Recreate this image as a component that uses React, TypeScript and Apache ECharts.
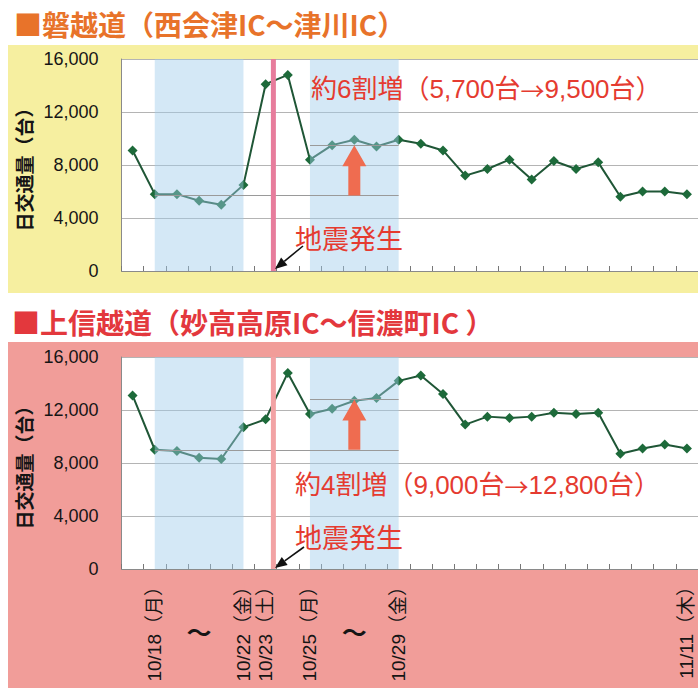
import React, { useEffect, useRef } from 'react';
import * as echarts from 'echarts';

// Daily traffic, 10/17 – 11/11
const dates = [
  '10/17', '10/18', '10/19', '10/20', '10/21', '10/22', '10/23', '10/24', '10/25', '10/26',
  '10/27', '10/28', '10/29', '10/30', '10/31', '11/1', '11/2', '11/3', '11/4', '11/5',
  '11/6', '11/7', '11/8', '11/9', '11/10', '11/11',
];

// 磐越道（西会津IC～津川IC）
const banetsuTraffic = [
  9100, 5800, 5800, 5300, 5000, 6500, 14100, 14800, 8400, 9500,
  9900, 9400, 9900, 9600, 9100, 7200, 7700, 8400, 6900, 8300,
  7700, 8200, 5600, 6000, 6000, 5800,
];

// 上信越道（妙高高原IC～信濃町IC）
const joshinetsuTraffic = [
  13100, 9000, 8900, 8400, 8300, 10700, 11300, 14800, 11700, 12100,
  12700, 12900, 14200, 14600, 13200, 10900, 11500, 11400, 11500, 11800,
  11700, 11800, 8700, 9100, 9400, 9100,
];

// Weekday averages before / after the quake, with the stated increase
const banetsuAverages = [5700, 9500];
const joshinetsuAverages = [9000, 12800];
const banetsuIncrease = '約6割増';
const joshinetsuIncrease = '約4割増';

const dateLabels: Record<string, string> = {
  '10/18': '10/18（月）',
  '10/22': '10/22（金）',
  '10/23': '10/23（土）',
  '10/25': '10/25（月）',
  '10/29': '10/29（金）',
  '11/11': '11/11（木）',
};
const tildeDates = ['10/20', '10/27'];

const beforeWeek = ['10/18', '10/22'];
const afterWeek = ['10/25', '10/29'];
const quakeDay = '10/23';
const quakeShift = 0.35; // 17:56 on 10/23, as a fraction of the day band past its centre
const arrowDay = '10/27';

const yMin = 0;
const yMax = 16000;
const yStep = 4000;

const CJK = '"Noto Sans CJK JP", sans-serif';
const LATIN = '"Liberation Sans", "Noto Sans CJK JP", sans-serif';
const NARROW = '"Liberation Sans Narrow", "Liberation Sans", "Noto Sans CJK JP", sans-serif';

const RED = '#e53b30';

function increaseNote(prefix: string, before: number, after: number) {
  const fmt = (v: number) => v.toLocaleString('en-US');
  return `${prefix}（${fmt(before)}台{arr|→}${fmt(after)}台）`;
}

function blackArrow(x0: number, y0: number, x1: number, y1: number) {
  const dx = x1 - x0;
  const dy = y1 - y0;
  const len = Math.hypot(dx, dy);
  const ux = dx / len;
  const uy = dy / len;
  const headLen = 12;
  const headHalf = 5;
  const bx = x1 - ux * headLen;
  const by = y1 - uy * headLen;
  return [
    {
      type: 'line',
      z: 100,
      shape: { x1: x0, y1: y0, x2: bx, y2: by },
      style: { stroke: '#111', lineWidth: 1.6 },
    },
    {
      type: 'polygon',
      z: 100,
      shape: {
        points: [
          [x1, y1],
          [bx - uy * headHalf, by + ux * headHalf],
          [bx + uy * headHalf, by - ux * headHalf],
        ],
      },
      style: { fill: '#111' },
    },
  ];
}

function noteText(text: string, x: number, y: number) {
  return {
    type: 'text',
    z: 100,
    style: {
      text,
      x,
      y,
      textVerticalAlign: 'middle',
      verticalAlign: 'middle',
      font: `26px ${LATIN}`,
      fill: RED,
      rich: {
        arr: { fontFamily: CJK, fontSize: 24, fill: RED, color: RED },
      },
    },
  };
}

function quakeText(x: number, y: number) {
  return {
    type: 'text',
    z: 100,
    style: {
      text: '地震発生',
      x,
      y,
      textVerticalAlign: 'middle',
      verticalAlign: 'middle',
      font: `27px ${CJK}`,
      fill: RED,
    },
  };
}

function panelSeries(
  idx: number,
  values: number[],
  averages: number[],
  quakeColor: string,
) {
  const axisRef = { xAxisIndex: idx, yAxisIndex: idx };
  return [
    {
      type: 'line',
      ...axisRef,
      data: values,
      z: 2,
      symbol: 'diamond',
      symbolSize: 10,
      lineStyle: { color: '#1f5636', width: 2 },
      itemStyle: { color: '#1d6a3a' },
    },
    {
      type: 'line',
      ...axisRef,
      data: values,
      z: 4,
      silent: true,
      showSymbol: false,
      symbol: 'none',
      lineStyle: { opacity: 0 },
      markArea: {
        z: 4,
        silent: true,
        itemStyle: { color: 'rgba(160, 205, 235, 0.45)' },
        data: [
          [{ xAxis: beforeWeek[0] }, { xAxis: beforeWeek[1] }],
          [{ xAxis: afterWeek[0] }, { xAxis: afterWeek[1] }],
        ],
      },
      markLine: {
        z: 5,
        silent: true,
        symbol: 'none',
        label: { show: false },
        lineStyle: { color: '#9a9a9a', width: 1, type: 'solid' },
        data: [
          [{ coord: [beforeWeek[0], averages[0]] }, { coord: [afterWeek[1], averages[0]] }],
          [{ coord: [afterWeek[0], averages[1]] }, { coord: [afterWeek[1], averages[1]] }],
        ],
      },
    },
    {
      type: 'custom',
      ...axisRef,
      z: 5,
      silent: true,
      data: [[dates.indexOf(quakeDay), 0]],
      encode: { x: 0, y: 1 },
      renderItem: (params: any, api: any) => {
        const cs = params.coordSys;
        const c = api.coord([api.value(0), 0]);
        const band = api.size([1, 0])[0];
        const x = c[0] + band * quakeShift;
        return {
          type: 'rect',
          shape: { x: x - 2.5, y: cs.y, width: 5, height: cs.height },
          style: { fill: quakeColor },
        };
      },
    },
    {
      type: 'custom',
      ...axisRef,
      z: 6,
      silent: true,
      data: [[dates.indexOf(arrowDay), averages[0], averages[1]]],
      encode: { x: 0, y: [1, 2] },
      renderItem: (_params: any, api: any) => {
        const base = api.coord([api.value(0), api.value(1)]);
        const tip = api.coord([api.value(0), api.value(2)]);
        const x = tip[0];
        const shaft = 6;
        const head = 12;
        const headLen = 21;
        const hy = tip[1] + headLen;
        return {
          type: 'polygon',
          shape: {
            points: [
              [x - shaft, base[1]],
              [x - shaft, hy],
              [x - head, hy],
              [x, tip[1]],
              [x + head, hy],
              [x + shaft, hy],
              [x + shaft, base[1]],
            ],
          },
          style: { fill: '#ef6c50' },
        };
      },
    },
  ];
}

function valueAxis(gridIndex: number) {
  return {
    type: 'value',
    gridIndex,
    min: yMin,
    max: yMax,
    interval: yStep,
    name: '日交通量（台）',
    nameLocation: 'middle',
    nameRotate: 90,
    nameGap: 83,
    nameTextStyle: { fontSize: 19, fontWeight: 'bold', color: '#151515', fontFamily: CJK },
    axisLine: { show: true, lineStyle: { color: '#8a8a8a', width: 1 } },
    axisTick: { show: false },
    axisLabel: {
      margin: 23,
      fontSize: 18,
      color: '#151515',
      fontFamily: LATIN,
      formatter: (v: number) => v.toLocaleString('en-US'),
    },
    splitLine: { lineStyle: { color: '#b4b4b4', width: 1 } },
  };
}

function categoryAxis(gridIndex: number, showLabels: boolean) {
  return {
    type: 'category',
    gridIndex,
    data: dates,
    boundaryGap: true,
    position: 'bottom',
    axisLine: { show: true, lineStyle: { color: '#8a8a8a', width: 1 } },
    axisTick: { show: true, inside: true, length: 5, interval: 0, lineStyle: { color: '#777' } },
    splitLine: { show: false },
    axisLabel: showLabels
      ? {
          show: true,
          interval: 0,
          rotate: 90,
          margin: 8,
          fontSize: 19,
          color: '#151515',
          fontFamily: NARROW,
          formatter: (v: string) => dateLabels[v] ?? '',
        }
      : { show: false },
  };
}

export default function App() {
  const ref = useRef<HTMLDivElement>(null);

  useEffect(() => {
    if (!ref.current) return;
    const chart = echarts.init(ref.current, undefined, { renderer: 'svg' });

    const option: any = {
      animation: false,
      backgroundColor: '#ffffff',
      grid: [
        { left: 121.5, top: 59, width: 577, height: 212, show: true, backgroundColor: '#ffffff', borderWidth: 0 },
        { left: 121.5, top: 357, width: 577, height: 212, show: true, backgroundColor: '#ffffff', borderWidth: 0 },
      ],
      xAxis: [
        categoryAxis(0, false),
        categoryAxis(1, true),
        {
          type: 'category',
          gridIndex: 1,
          data: dates,
          position: 'bottom',
          axisLine: { show: false },
          axisTick: { show: false },
          splitLine: { show: false },
          axisLabel: {
            interval: 0,
            margin: 49,
            fontSize: 25,
            fontWeight: 'bold',
            color: '#151515',
            fontFamily: CJK,
            formatter: (v: string) => (tildeDates.includes(v) ? '～' : ''),
          },
        },
      ],
      yAxis: [valueAxis(0), valueAxis(1)],
      series: [
        ...panelSeries(0, banetsuTraffic, banetsuAverages, '#e77c9c'),
        ...panelSeries(1, joshinetsuTraffic, joshinetsuAverages, '#f2a2a4'),
      ],
      graphic: {
        elements: [
          { type: 'rect', z: -100, shape: { x: 8, y: 45, width: 690, height: 248 }, style: { fill: '#f6efa0' } },
          { type: 'rect', z: -100, shape: { x: 8, y: 342, width: 690, height: 346 }, style: { fill: '#f19d99' } },
          {
            type: 'text',
            z: 100,
            style: {
              text: '■磐越道（西会津IC～津川IC）',
              x: 14,
              y: 24,
              textVerticalAlign: 'middle',
              verticalAlign: 'middle',
              font: `bold 28px ${CJK}`,
              fill: '#e8732a',
            },
          },
          {
            type: 'text',
            z: 100,
            style: {
              text: '■上信越道（妙高高原IC～信濃町IC ）',
              x: 12,
              y: 322,
              textVerticalAlign: 'middle',
              verticalAlign: 'middle',
              font: `bold 28px ${CJK}`,
              fill: '#e3383d',
            },
          },
          noteText(increaseNote(banetsuIncrease, banetsuAverages[0], banetsuAverages[1]), 311, 89),
          quakeText(295, 237),
          ...blackArrow(303, 246, 275, 269),
          noteText(increaseNote(joshinetsuIncrease, joshinetsuAverages[0], joshinetsuAverages[1]), 295, 485),
          quakeText(295, 536),
          ...blackArrow(304, 547, 275, 568),
        ],
      },
    };

    chart.setOption(option);
    return () => chart.dispose();
  }, []);

  return (
    <div
      ref={ref}
      style={{ position: 'absolute', left: 0, top: 0, width: 698, height: 688 }}
    />
  );
}
